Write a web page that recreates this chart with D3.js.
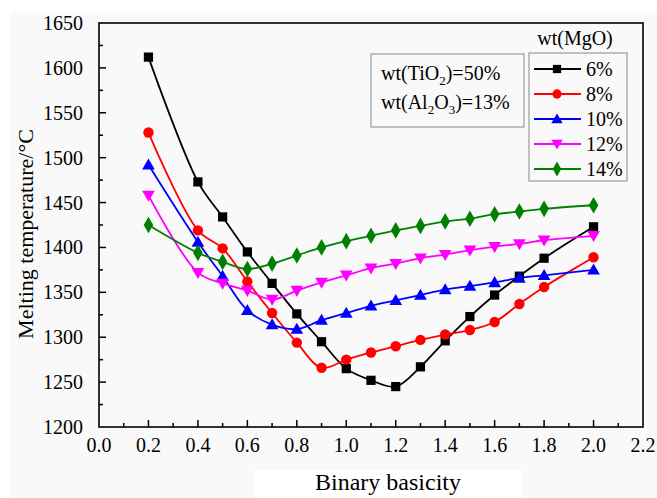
<!DOCTYPE html>
<html><head><meta charset="utf-8">
<script src="https://cdn.jsdelivr.net/npm/d3@7"></script>
<style>body{margin:0;background:#fff}svg{display:block}</style>
</head><body><svg id="c" width="657" height="498" font-family="'Liberation Serif', 'Times New Roman', Tinos, 'DejaVu Serif', serif"></svg>
<script>
const basicity = [0.2,0.4,0.5,0.6,0.7,0.8,0.9,1.0,1.1,1.2,1.3,1.4,1.5,1.6,1.7,1.8,2.0];
const mgo6  = [1612,1473,1434,1395,1360,1326,1295,1265,1252,1245,1267,1296,1323,1347,1368,1388,1423];
const mgo8  = [1528,1419,1399,1362,1327,1294,1266,1275,1283,1290,1297,1303,1308,1317,1337,1356,1389];
const mgo10 = [1492,1406,1368,1330,1314,1309,1319,1327,1335,1341,1347,1353,1357,1361,1366,1369,1375];
const mgo12 = [1458,1372,1360,1352,1342,1352,1361,1369,1377,1382,1388,1392,1397,1401,1404,1408,1413];
const mgo14 = [1425,1394,1384,1376,1382,1391,1400,1407,1413,1419,1424,1429,1432,1437,1440,1443,1447];
const seriesNames = ["6%","8%","10%","12%","14%"];
const xTicks = [0.0,0.2,0.4,0.6,0.8,1.0,1.2,1.4,1.6,1.8,2.0,2.2];
const yTicks = [1200,1250,1300,1350,1400,1450,1500,1550,1600,1650];

const series = [
  {name:seriesNames[0], vals:mgo6,  color:"#000000", sym:d3.symbolSquare,   size:85, rot:0},
  {name:seriesNames[1], vals:mgo8,  color:"#ff0000", sym:d3.symbolCircle,   size:85, rot:0},
  {name:seriesNames[2], vals:mgo10, color:"#0000ff", sym:d3.symbolTriangle, size:70, rot:0},
  {name:seriesNames[3], vals:mgo12, color:"#ff00ff", sym:d3.symbolTriangle, size:70, rot:180},
  {name:seriesNames[4], vals:mgo14, color:"#008000", sym:d3.symbolDiamond,  size:80, rot:0}
];

const svg = d3.select("#c");
svg.append("rect").attr("x",10).attr("y",12).attr("width",647).attr("height",486).attr("fill","#f9f9f9");
svg.append("rect").attr("x",255).attr("y",470).attr("width",268).attr("height",28).attr("fill","#ffffff");

const L=99,R=643,T=23,B=427;
const x = d3.scaleLinear().domain([0,2.2]).range([L,R]);
const y = d3.scaleLinear().domain([1200,1650]).range([B,T]);

const g = svg.append("g");
const xMinor = d3.range(0,22).map(i=>i*0.1+0.1).filter(v=>v<2.19);
g.selectAll(".xm").data(xMinor).enter().append("line")
  .attr("x1",d=>x(d)).attr("x2",d=>x(d)).attr("y1",B).attr("y2",d=>Math.round(d*10)%2===0?B-7:B-4)
  .attr("stroke","#000").attr("stroke-width",1.5);
const yMinor = d3.range(1225,1650,25);
g.selectAll(".ym").data(yMinor).enter().append("line")
  .attr("y1",d=>y(d)).attr("y2",d=>y(d)).attr("x1",L).attr("x2",d=>d%50===0?L+7:L+4)
  .attr("stroke","#000").attr("stroke-width",1.5);

g.selectAll(".xl").data(xTicks).enter().append("text")
  .attr("x",d=>x(d)).attr("y",452).attr("text-anchor","middle").attr("font-size",20)
  .text(d=>d.toFixed(1));
g.selectAll(".yl").data(yTicks).enter().append("text")
  .attr("x",83).attr("y",d=>y(d)+7).attr("text-anchor","end").attr("font-size",20)
  .text(d=>d);

g.append("rect").attr("x",L).attr("y",T).attr("width",R-L).attr("height",B-T)
  .attr("fill","none").attr("stroke","#000").attr("stroke-width",1.6);

svg.append("text").attr("x",388).attr("y",490).attr("text-anchor","middle").attr("font-size",24).text("Binary basicity");
svg.append("text").attr("transform","translate(33,234) rotate(-90)").attr("text-anchor","middle").attr("font-size",22).text("Melting temperature/°C");

const line = d3.line().x(d=>x(d[0])).y(d=>y(d[1])).curve(d3.curveCatmullRom.alpha(0.5));
series.forEach(s=>{
  const pts = basicity.map((b,i)=>[b,s.vals[i]]);
  svg.append("path").attr("d",line(pts)).attr("fill","none").attr("stroke",s.color).attr("stroke-width",1.8);
});
series.forEach(s=>{
  const pts = basicity.map((b,i)=>[b,s.vals[i]]);
  svg.selectAll(null).data(pts).enter().append("path")
    .attr("d",d3.symbol().type(s.sym).size(s.size))
    .attr("transform",d=>`translate(${x(d[0])},${y(d[1]) + (s.rot?-1:(s.sym===d3.symbolTriangle?1:0))}) rotate(${s.rot})`)
    .attr("fill",s.color);
});

svg.append("rect").attr("x",371).attr("y",54).attr("width",153).attr("height",73)
  .attr("fill","none").attr("stroke","#888").attr("stroke-width",1);
const t1 = svg.append("text").attr("x",381).attr("y",80).attr("font-size",20);
t1.append("tspan").text("wt(TiO");
t1.append("tspan").attr("font-size",13).attr("dy",5).text("2");
t1.append("tspan").attr("dy",-5).text(")=50%");
const t2 = svg.append("text").attr("x",381).attr("y",109).attr("font-size",20);
t2.append("tspan").text("wt(Al");
t2.append("tspan").attr("font-size",13).attr("dy",5).text("2");
t2.append("tspan").attr("dy",-5).text("O");
t2.append("tspan").attr("font-size",13).attr("dy",5).text("3");
t2.append("tspan").attr("dy",-5).text(")=13%");

svg.append("text").attr("x",575).attr("y",45).attr("text-anchor","middle").attr("font-size",20).text("wt(MgO)");
svg.append("rect").attr("x",529).attr("y",53).attr("width",98).attr("height",128)
  .attr("fill","none").attr("stroke","#888").attr("stroke-width",1);
series.forEach((s,i)=>{
  const ly = 69 + i*25;
  svg.append("line").attr("x1",534).attr("x2",581).attr("y1",ly).attr("y2",ly).attr("stroke",s.color).attr("stroke-width",1.8);
  svg.append("path").attr("d",d3.symbol().type(s.sym).size(s.size*0.8))
    .attr("transform",`translate(557,${ly + (s.rot?-1:(s.sym===d3.symbolTriangle?1:0))}) rotate(${s.rot})`).attr("fill",s.color);
  svg.append("text").attr("x",586).attr("y",ly+7).attr("font-size",20).text(s.name);
});
</script></body></html>
